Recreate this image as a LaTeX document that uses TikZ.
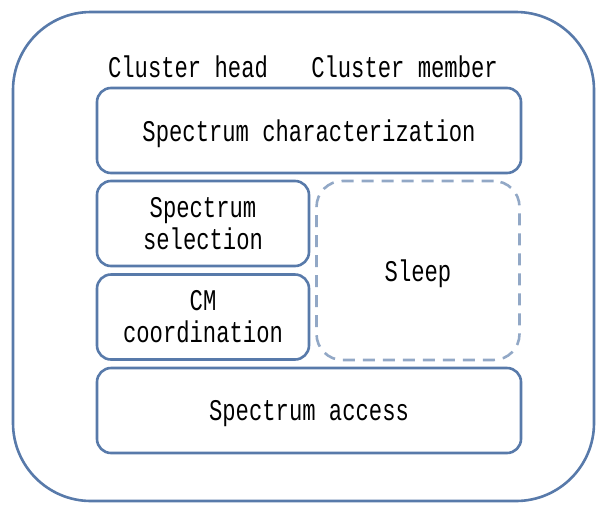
\documentclass[tikz,border=0pt]{standalone}
\usepackage{fontspec}
% narrow monospaced face for all labels
\newfontfamily\boxfont[FakeStretch=0.74]{Liberation Mono}
\definecolor{frame}{RGB}{88,122,170}
\definecolor{sleepline}{RGB}{146,168,198}
\begin{document}
\begin{tikzpicture}[x=1pt,y=-1pt,
  every node/.style={font=\boxfont\fontsize{30}{32}\selectfont, text=black, align=center},
  block/.style={draw=frame, line width=2.6pt, rounded corners=14pt, inner sep=0pt},
  oneline/.style={text depth=0pt},
  sleepblock/.style={draw=sleepline, line width=2.6pt, rounded corners=26pt, dash pattern=on 12pt off 8pt, inner sep=0pt}]
  \useasboundingbox (0,0) rectangle (596,509);
  % outer cluster frame
  \draw[draw=frame, line width=2.6pt, rounded corners=78pt] (13,12) rectangle (594,501);
  % column headings
  \node[anchor=base] (ch) at (188,77) {Cluster head};
  \node[anchor=base] (cm) at (404.5,77) {Cluster member};
  % function blocks
  \node[block, oneline, minimum width=424pt, minimum height=85pt] (char) at (309,130.5) {Spectrum characterization};
  \node[block, minimum width=212pt, minimum height=85pt] (sel) at (203,223.5) {Spectrum\\selection};
  \node[block, minimum width=212pt, minimum height=85pt] (coord) at (203,317) {CM\\coordination};
  \node[sleepblock, oneline, minimum width=203pt, minimum height=179pt] (sleep) at (418,270.5) {Sleep};
  \node[block, oneline, minimum width=424pt, minimum height=85pt] (acc) at (309,410.5) {Spectrum access};
\end{tikzpicture}
\end{document}
